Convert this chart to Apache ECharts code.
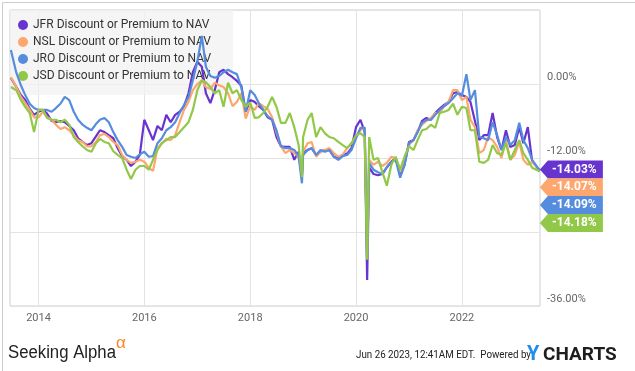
<!DOCTYPE html>
<html><head><meta charset="utf-8">
<script src="https://cdn.jsdelivr.net/npm/echarts@6/dist/echarts.min.js"></script>
<style>html,body{margin:0;padding:0;background:#fff}#c{width:635px;height:371px}</style>
</head><body><div id="c"></div>
<script>
const dates = [
'2013-06-24','2013-08-01','2013-09-01','2013-10-01','2013-11-01','2013-12-01',
'2014-01-01','2014-02-01','2014-03-01','2014-04-01','2014-05-01','2014-06-01','2014-07-01','2014-08-01','2014-09-01','2014-10-01','2014-11-01','2014-12-01',
'2015-01-01','2015-02-01','2015-03-01','2015-04-01','2015-05-01','2015-06-01','2015-07-01','2015-08-01','2015-09-01','2015-10-01','2015-11-01','2015-12-01',
'2016-01-01','2016-02-01','2016-03-01','2016-04-01','2016-05-01','2016-06-01','2016-07-01','2016-08-01','2016-09-01','2016-10-01','2016-11-01','2016-12-01',
'2017-01-01','2017-02-01','2017-03-01','2017-04-01','2017-05-01','2017-06-01','2017-07-01','2017-08-01','2017-09-01','2017-10-01','2017-11-01','2017-12-01',
'2018-01-01','2018-02-01','2018-03-01','2018-04-01','2018-05-01','2018-06-01','2018-07-01','2018-08-01','2018-09-01','2018-10-01','2018-11-01','2018-12-01','2018-12-24',
'2019-01-01','2019-02-01','2019-03-01','2019-04-01','2019-05-01','2019-06-01','2019-07-01','2019-08-01','2019-09-01','2019-10-01','2019-11-01','2019-12-01',
'2020-01-01','2020-02-01','2020-03-01','2020-03-18','2020-04-01','2020-05-01','2020-06-01','2020-07-01','2020-08-01','2020-09-01','2020-10-01','2020-11-01','2020-12-01',
'2021-01-01','2021-02-01','2021-03-01','2021-04-01','2021-05-01','2021-06-01','2021-07-01','2021-08-01','2021-09-01','2021-10-01','2021-11-01','2021-12-01',
'2022-01-01','2022-02-01','2022-03-01','2022-04-01','2022-05-01','2022-06-01','2022-07-01','2022-08-01','2022-09-01','2022-10-01','2022-11-01','2022-12-01',
'2023-01-01','2023-02-01','2023-03-01','2023-04-01','2023-05-01','2023-06-23'
];

const seriesNames = [
  'JFR Discount or Premium to NAV',
  'NSL Discount or Premium to NAV',
  'JRO Discount or Premium to NAV',
  'JSD Discount or Premium to NAV'
];

const jfr = [
1.0,-0.5,-1.8,-2.6,-4.0,-5.0,
-4.5,-4.2,-4.8,-6.0,-6.2,-6.0,-6.2,-6.8,-7.5,-8.8,-9.4,-9.9,
-9.6,-8.5,-7.5,-7.8,-8.3,-8.8,-10.4,-11.7,-12.3,-13.3,-12.6,-11.5,
-5.8,-7.5,-9.1,-6.8,-7.5,-5.0,-6.2,-5.0,-4.5,-3.6,-1.5,1.9,
3.6,2.8,-1.5,-3.1,-1.0,1.9,2.3,1.6,1.1,0.5,-0.3,-4.5,
-2.6,-2.9,-3.6,-4.2,-5.4,-5.8,-8.6,-10.1,-10.2,-10.2,-12.3,-11.0,-14.6,
-11.2,-10.7,-10.4,-11.5,-11.0,-10.7,-10.7,-11.8,-12.0,-11.5,-11.3,-10.4,
-7.0,-5.8,-7.8,-31.8,-13.5,-14.6,-14.8,-14.6,-13.5,-12.6,-12.0,-14.8,-13.1,
-9.4,-9.1,-7.8,-6.0,-5.5,-5.8,-4.7,-4.0,-3.4,-2.9,-1.5,-1.3,
-1.8,-2.1,-2.9,-6.0,-9.1,-8.3,-8.3,-4.7,-8.6,-10.7,-7.5,-10.2,
-9.9,-7.0,-9.6,-7.0,-12.6,-14.03
];

const nsl = [
1.1,-0.5,-2.1,-3.1,-4.2,-5.4,
-5.4,-4.5,-5.4,-5.8,-6.6,-7.3,-7.0,-7.5,-8.3,-9.1,-9.4,-10.1,
-10.1,-9.4,-8.3,-8.1,-8.6,-9.4,-9.9,-11.5,-12.3,-12.8,-12.6,-12.3,
-12.6,-13.6,-14.1,-10.4,-9.6,-8.9,-9.1,-8.3,-6.2,-4.2,-2.9,-1.0,
0.0,0.6,-0.5,-0.8,0.2,-0.2,-0.5,-1.5,-3.6,-2.9,-1.5,-5.6,
-3.6,-4.2,-3.1,-3.6,-4.0,-5.4,-7.8,-10.1,-11.2,-10.7,-11.2,-11.8,-14.8,
-11.0,-9.6,-9.4,-11.8,-11.0,-10.7,-10.4,-11.2,-11.8,-11.5,-10.4,-9.6,
-8.6,-7.5,-7.0,-28.0,-12.3,-13.1,-12.6,-13.3,-12.8,-11.8,-12.0,-14.3,-12.3,
-9.9,-9.1,-7.5,-6.6,-6.0,-5.5,-4.7,-4.7,-3.6,-2.9,-1.0,-1.0,
-2.6,-2.1,-5.8,-7.0,-11.2,-10.7,-8.6,-9.1,-10.2,-12.0,-9.1,-12.3,
-11.5,-9.4,-12.3,-13.1,-12.6,-14.07
];

const jro = [
5.5,1.8,-0.2,-1.8,-3.2,-3.9,
-4.2,-4.2,-4.2,-4.5,-3.9,-3.2,-2.1,-2.6,-4.5,-5.8,-6.6,-7.1,
-7.5,-6.5,-5.8,-5.5,-6.2,-7.8,-9.1,-10.2,-11.5,-11.8,-12.0,-11.4,
-11.0,-11.8,-11.7,-9.6,-8.8,-7.5,-7.0,-6.2,-4.7,-3.4,-2.1,0.6,
3.6,7.8,2.8,1.3,1.0,1.3,1.9,2.3,1.9,1.6,-0.6,-4.5,
-1.0,-1.8,-3.1,-4.2,-5.2,-5.8,-7.5,-10.1,-10.4,-10.4,-10.7,-11.7,-16.1,
-11.5,-10.7,-10.4,-11.5,-10.7,-11.0,-10.7,-11.8,-12.3,-11.7,-11.5,-10.7,
-8.8,-7.1,-7.1,-28.0,-12.8,-13.9,-14.3,-14.6,-13.5,-12.6,-12.3,-15.2,-13.1,
-9.6,-9.1,-7.8,-6.3,-5.8,-5.8,-5.0,-4.2,-3.6,-3.1,-2.3,-1.5,
-1.9,1.6,-2.6,-1.0,-8.6,-8.8,-9.1,-6.2,-8.3,-10.7,-8.6,-9.9,
-9.1,-6.3,-9.1,-10.4,-12.3,-14.09
];

const jsd = [
-0.5,-1.0,-2.6,-3.7,-4.7,-7.8,
-4.2,-4.2,-5.5,-5.8,-5.8,-6.2,-5.8,-6.6,-8.6,-9.4,-10.1,-10.7,
-11.0,-9.6,-8.9,-9.4,-9.6,-10.9,-11.5,-12.0,-13.9,-15.4,-13.9,-13.3,
-13.3,-13.9,-12.3,-10.7,-9.6,-9.1,-8.6,-8.6,-7.8,-7.0,-6.2,-4.2,
-1.0,0.6,0.3,-0.5,-1.5,-1.0,-3.7,0.2,-1.5,-1.0,-2.6,-3.7,
-3.0,-5.5,-5.4,-4.7,-3.7,-2.1,-3.7,-6.3,-6.3,-4.7,-7.0,-9.9,-15.1,
-8.6,-5.8,-4.7,-8.6,-7.0,-8.0,-8.6,-8.8,-9.4,-9.9,-10.4,-9.6,
-8.3,-8.0,-8.6,-28.5,-8.6,-12.3,-12.0,-14.3,-16.5,-13.1,-11.8,-13.9,-11.8,
-10.1,-10.7,-9.1,-7.5,-7.3,-6.6,-7.1,-4.7,-4.5,-4.2,-3.2,-5.0,
-3.7,-3.9,-7.5,-7.5,-12.6,-12.8,-12.3,-9.9,-11.2,-11.5,-9.6,-12.3,
-10.7,-9.1,-11.2,-12.3,-13.6,-14.18
];

const xTickYears = [2014, 2016, 2018, 2020, 2022];
const yTickValues = [0, -12, -36];

const colors = ['#6834d0', '#fda76f', '#568cde', '#92c848'];
const valueSets = [jfr, nsl, jro, jsd];
const tagOffsets = [-1, 16.5, 34, 51.5];

function toTime(s) { const p = s.split('-').map(Number); return Date.UTC(p[0], p[1] - 1, p[2]); }
const times = dates.map(toTime);
const xTicks = xTickYears.map(y => Date.UTC(y, 0, 1));

const chart = echarts.init(document.getElementById('c'), null, {renderer: 'canvas'});

const series = valueSets.map((vals, i) => {
  const last = vals.length - 1;
  return {
    name: seriesNames[i],
    type: 'line',
    data: times.map((t, k) => [t, vals[k]]),
    showSymbol: false,
    symbol: 'none',
    lineStyle: {width: 2.2, color: colors[i]},
    itemStyle: {color: colors[i]},
    z: 2 + i,
    animation: false,
    markPoint: {
      silent: true,
      animation: false,
      symbol: 'path://M0,9L8,0L63,0L63,18L8,18Z',
      symbolSize: [63, 18],
      symbolKeepAspect: false,
      symbolOffset: [31.5, tagOffsets[i]],
      itemStyle: {color: colors[i]},
      label: {
        show: true, position: 'inside', offset: [3, 0],
        color: '#fff', fontWeight: 'bold', fontSize: 12, fontFamily: 'Roboto',
        formatter: p => p.value.toFixed(2) + '%'
      },
      data: [{coord: [times[last], vals[last]], value: vals[last]}]
    }
  };
});

chart.setOption({
  animation: false,
  color: colors,
  textStyle: {fontFamily: 'Roboto'},
  grid: {left: 10, right: 95, top: 10, bottom: 65, show: true, borderColor: '#cfcfcf', borderWidth: 1, backgroundColor: 'transparent'},
  legend: {
    left: 10, top: 10, orient: 'vertical', z: 1,
    padding: [8, 22, 12, 8],
    backgroundColor: 'rgba(242,242,242,0.75)',
    icon: 'circle', itemWidth: 10, itemHeight: 10, itemGap: 3,
    textStyle: {fontSize: 12, color: '#333', fontFamily: 'Roboto', lineHeight: 14},
    data: seriesNames
  },
  xAxis: {
    type: 'value',
    min: Date.UTC(2013, 5, 18),
    max: Date.UTC(2023, 5, 24),
    axisLine: {show: false},
    axisTick: {show: false, customValues: xTicks},
    splitLine: {show: true, lineStyle: {color: '#e3e3e3', width: 1}},
    axisLabel: {
      customValues: xTicks,
      color: '#666', fontSize: 11, margin: 7,
      formatter: v => String(new Date(v).getUTCFullYear())
    }
  },
  yAxis: {
    type: 'value', position: 'right',
    min: -36, max: 12, interval: 12,
    axisLine: {show: false}, axisTick: {show: false},
    splitLine: {show: true, lineStyle: {color: '#e3e3e3', width: 1}},
    axisLabel: {
      color: '#666', fontSize: 11, margin: 7, verticalAlign: 'bottom', lineHeight: 14,
      formatter: v => yTickValues.includes(v) ? v.toFixed(2) + '%' : ''
    }
  },
  series: series,
  graphic: [
    {type: 'rect', left: 0, top: 0, z: 100, silent: true,
     shape: {x: 0.5, y: 0.5, width: 634, height: 370},
     style: {fill: 'none', stroke: '#cccccc', lineWidth: 1}},
    {type: 'text', x: 8, y: 344, scaleX: 0.93, z: 100,
     style: {text: 'Seeking Alpha', font: '18px "Liberation Sans"', fill: '#222'}},
    {type: 'text', x: 116, y: 335, z: 100,
     style: {text: 'α', font: '17px "Liberation Sans"', fill: '#f7861f'}},
    {type: 'text', x: 356, y: 350, scaleX: 0.89, z: 100,
     style: {text: 'Jun 26 2023, 12:41AM EDT.  Powered by', font: '11px Roboto', fill: '#222'}},
    {type: 'text', x: 527, y: 345, z: 100,
     style: {text: 'Y', font: 'bold 20px Roboto', fill: '#1b8ef2'}},
    {type: 'text', x: 543, y: 346, z: 100,
     style: {text: 'CHARTS', font: 'bold 19px Roboto', fill: '#1e1e1e'}}
  ]
});
</script>
</body></html>
